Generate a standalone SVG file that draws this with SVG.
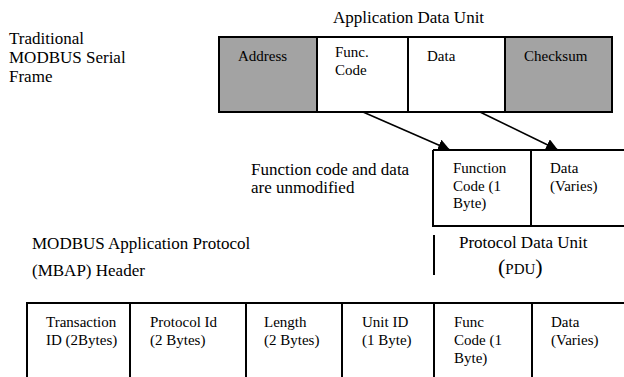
<svg xmlns="http://www.w3.org/2000/svg" width="624" height="377" viewBox="0 0 624 377">
  <defs>
    <style>
      .lg { font-family: "Liberation Serif", "Times New Roman", serif; font-size: 17px; fill: #000; }
      .sm { font-family: "Liberation Serif", "Times New Roman", serif; font-size: 15px; fill: #000; }
      .cell { stroke: #000; stroke-width: 2; }
      .grey { fill: #a3a3a3; }
      .white { fill: #fff; }
      .edge { stroke: #000; stroke-width: 2; fill: none; }
      .arrow { stroke: #000; stroke-width: 1.6; fill: none; marker-end: url(#head); }
    </style>
    <marker id="head" markerUnits="userSpaceOnUse" markerWidth="13" markerHeight="13" refX="12" refY="6" orient="auto">
      <path d="M0,0 L12,6 L0,12 z" fill="#000"/>
    </marker>
  </defs>

  <rect width="624" height="377" fill="#fff"/>

  <!-- free-standing labels -->
  <g id="label-adu">
    <text class="lg" x="333" y="23">Application Data Unit</text>
  </g>
  <g id="label-serial">
    <text class="lg" x="9" y="44">Traditional</text>
    <text class="lg" x="9" y="63">MODBUS Serial</text>
    <text class="lg" x="9" y="82">Frame</text>
  </g>
  <g id="label-unmodified">
    <text class="lg" x="251" y="175">Function code and data</text>
    <text class="lg" x="251" y="193">are unmodified</text>
  </g>
  <g id="label-mbap">
    <text class="lg" x="32" y="249">MODBUS Application Protocol</text>
    <text class="lg" x="32" y="276">(MBAP) Header</text>
  </g>
  <g id="label-pdu">
    <text class="lg" x="459" y="248">Protocol Data Unit</text>
    <text class="sm" x="498" y="274"><tspan font-size="22">(</tspan>PDU<tspan font-size="22">)</tspan></text>
    <line class="edge" x1="434" y1="235" x2="434" y2="275"/>
  </g>

  <!-- serial frame -->
  <g id="serial-address">
    <rect class="cell grey" x="219" y="37" width="98" height="75"/>
    <text class="sm" x="238" y="61">Address</text>
  </g>
  <g id="serial-func">
    <rect class="cell white" x="317" y="37" width="91" height="75"/>
    <text class="sm" x="335" y="57">Func.</text>
    <text class="sm" x="335" y="75">Code</text>
  </g>
  <g id="serial-data">
    <rect class="cell white" x="408" y="37" width="97" height="75"/>
    <text class="sm" x="427" y="61">Data</text>
  </g>
  <g id="serial-checksum">
    <rect class="cell grey" x="505" y="37" width="107" height="75"/>
    <text class="sm" x="524" y="61">Checksum</text>
  </g>

  <!-- connectors -->
  <g id="connectors">
    <line class="arrow" x1="363" y1="112" x2="450" y2="150"/>
    <line class="arrow" x1="480" y1="112" x2="558" y2="150"/>
  </g>

  <!-- protocol data unit -->
  <g id="pdu-func">
    <path class="edge" d="M433,150 H531 M433,150 V226 H531"/>
    <text class="sm" x="453" y="173">Function</text>
    <text class="sm" x="453" y="191">Code (1</text>
    <text class="sm" x="453" y="208">Byte)</text>
  </g>
  <g id="pdu-data">
    <path class="edge" d="M531,150 H626 M531,150 V226 H626"/>
    <text class="sm" x="550" y="173">Data</text>
    <text class="sm" x="550" y="191">(Varies)</text>
  </g>

  <!-- TCP frame -->
  <g id="tcp-transaction">
    <path class="edge" d="M27,379 V303 H130"/>
    <text class="sm" x="46" y="327">Transaction</text>
    <text class="sm" x="46" y="345">ID (2Bytes)</text>
  </g>
  <g id="tcp-protocol">
    <path class="edge" d="M130,379 V303 H246"/>
    <text class="sm" x="150" y="327">Protocol Id</text>
    <text class="sm" x="150" y="345">(2 Bytes)</text>
  </g>
  <g id="tcp-length">
    <path class="edge" d="M246,379 V303 H342"/>
    <text class="sm" x="264" y="327">Length</text>
    <text class="sm" x="264" y="345">(2 Bytes)</text>
  </g>
  <g id="tcp-unit">
    <path class="edge" d="M342,379 V303 H434"/>
    <text class="sm" x="362" y="327">Unit ID</text>
    <text class="sm" x="362" y="345">(1 Byte)</text>
  </g>
  <g id="tcp-func">
    <path class="edge" d="M434,379 V303 H532"/>
    <text class="sm" x="454" y="327">Func</text>
    <text class="sm" x="454" y="345">Code (1</text>
    <text class="sm" x="454" y="363">Byte)</text>
  </g>
  <g id="tcp-data">
    <path class="edge" d="M532,379 V303 H626"/>
    <text class="sm" x="551" y="327">Data</text>
    <text class="sm" x="551" y="345">(Varies)</text>
  </g>
</svg>
